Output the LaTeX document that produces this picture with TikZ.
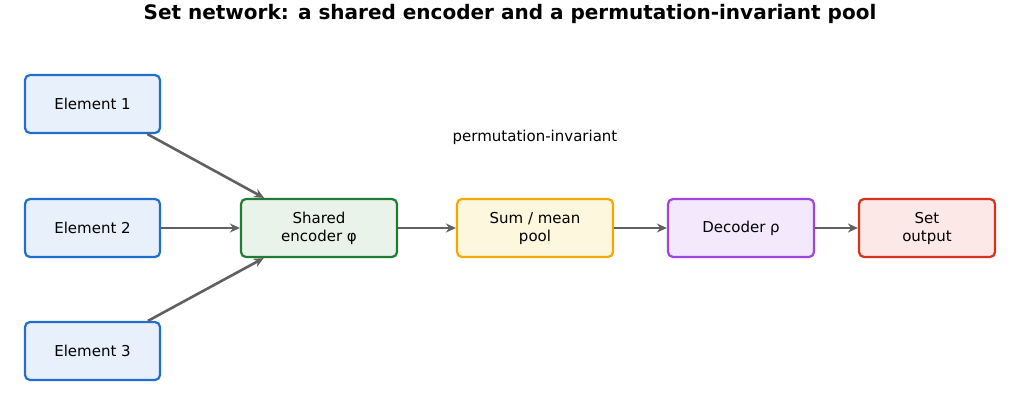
\documentclass[tikz,border=0pt]{standalone}
\usepackage{fontspec}
\setmainfont{DejaVu Sans}
\usetikzlibrary{arrows.meta}
\definecolor{bB}{HTML}{1F6FD0}\definecolor{fB}{HTML}{E8F0FC}
\definecolor{bG}{HTML}{1E7D32}\definecolor{fG}{HTML}{E9F3EA}
\definecolor{bO}{HTML}{F5A800}\definecolor{fO}{HTML}{FDF7DE}
\definecolor{bP}{HTML}{A044E0}\definecolor{fP}{HTML}{F3E8FC}
\definecolor{bR}{HTML}{D8321E}\definecolor{fR}{HTML}{FCE8E6}
\definecolor{ar}{HTML}{606060}
\begin{document}
\begin{tikzpicture}[x=1pt,y=-1pt,
 box/.style={draw=#1, line width=2.2pt, rounded corners=5pt, minimum height=58pt, align=center, font=\fontsize{15}{18}\selectfont, inner sep=0pt},
 arr/.style={draw=ar, line width=2.6pt, -{Stealth[length=10pt,width=9pt]}}]
\useasboundingbox (0,0) rectangle (1020,406);
\node[font=\bfseries\fontsize{20}{24}\selectfont] (t) at (510,14) {Set network: a shared encoder and a permutation-invariant pool};
\node[box=bB, fill=fB, minimum width=135pt] (e1) at (92.5,104) {Element 1};
\node[box=bB, fill=fB, minimum width=135pt] (e2) at (92.5,228) {Element 2};
\node[box=bB, fill=fB, minimum width=135pt] (e3) at (92.5,351) {Element 3};
\node[box=bG, fill=fG, minimum width=156pt] (enc) at (319,228) {Shared\\encoder φ};
\node[box=bO, fill=fO, minimum width=156pt] (pool) at (535,228) {Sum / mean\\pool};
\node[box=bP, fill=fP, minimum width=146pt] (dec) at (741,228) {Decoder ρ};
\node[box=bR, fill=fR, minimum width=136pt] (out) at (927,228) {Set\\output};
\node[font=\fontsize{15}{18}\selectfont] (lbl) at (535,137) {permutation-invariant};
\draw[arr] (e1) -- (enc);
\draw[arr] (e2) -- (enc);
\draw[arr] (e3) -- (enc);
\draw[arr] (enc) -- (pool);
\draw[arr] (pool) -- (dec);
\draw[arr] (dec) -- (out);
\end{tikzpicture}
\end{document}
